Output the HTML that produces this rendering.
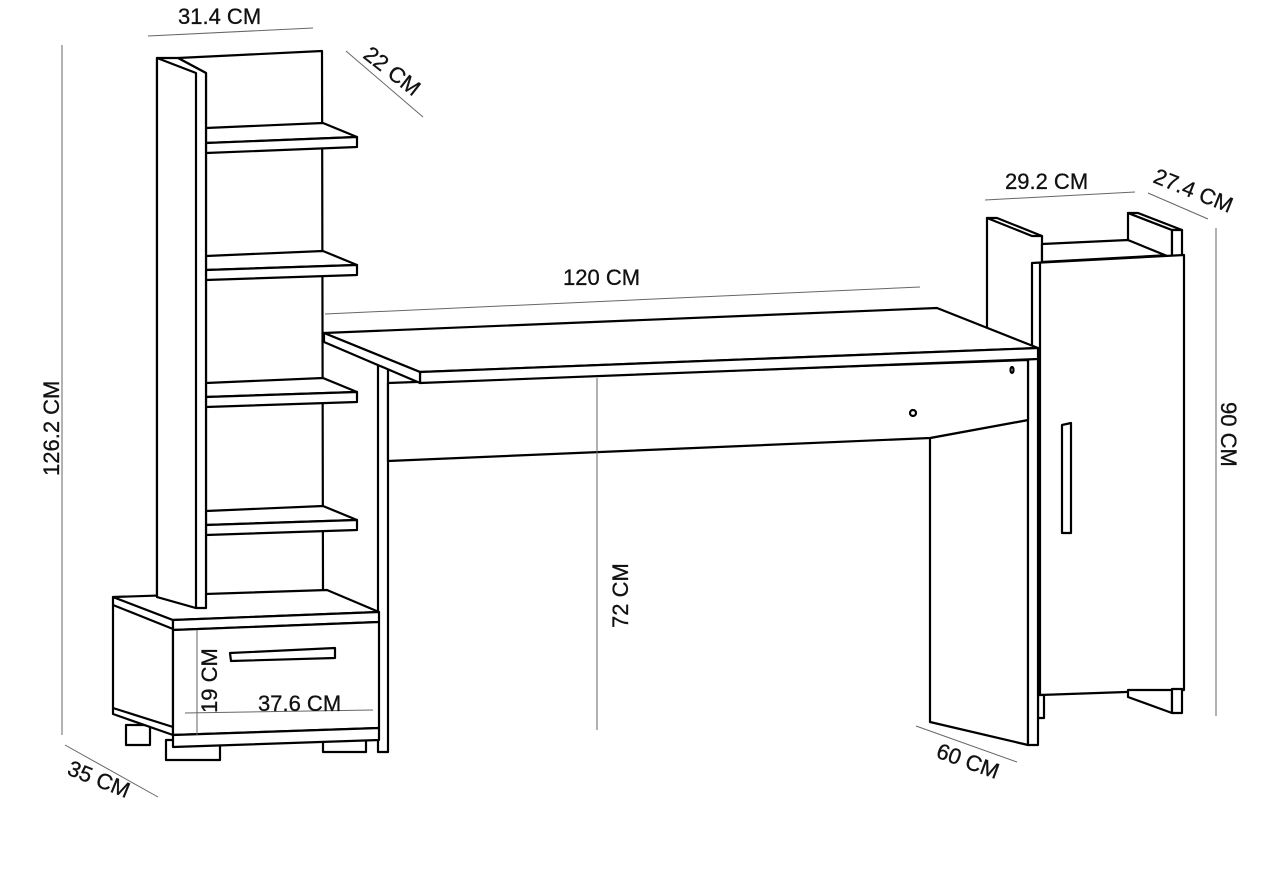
<!DOCTYPE html>
<html><head><style>
html,body{margin:0;padding:0;background:#fff;width:1280px;height:869px;overflow:hidden}
svg{display:block}
text{font-family:"Liberation Sans",sans-serif;font-size:22px;fill:#111;stroke:#111;stroke-width:0.3}
</style></head><body>
<svg width="1280" height="869" viewBox="0 0 1280 869" xmlns="http://www.w3.org/2000/svg">
<g fill="#fff" stroke="#000" stroke-width="2.2" stroke-linejoin="round">
<polygon points="178,58 322,51 323,592 206,597 206,73"/>
<g>
<polygon points="206,128 323,123 357,137 206,143"/><polygon points="206,143 357,137 357,147 206,153"/>
<polygon points="206,256 323,251 357,265 206,270"/><polygon points="206,270 357,265 357,275 206,280"/>
<polygon points="206,383 323,378 357,392 206,397"/><polygon points="206,397 357,392 357,402 206,407"/>
<polygon points="206,511 323,506 357,520 206,525"/><polygon points="206,525 357,520 357,530 206,535"/>
</g>
<polygon points="378,345 388,345 388,752 378,752"/>
<polygon points="126,725 150,725 150,745 126,745"/>
<polygon points="166,740 220,740 220,760 166,760"/>
<polygon points="323,736 366,736 366,752 323,752"/>
<polygon points="113,597 173,620 173,735 113,714"/>
<polygon points="113,597 327,590 379,612 173,620"/>
<polygon points="173,620 379,612 379,622 173,630"/>
<polygon points="173,630 379,622 379,728 173,735"/>
<polygon points="173,735 379,728 379,740 173,747"/>
<line x1="113" y1="605" x2="173" y2="629"/>
<line x1="113" y1="708" x2="173" y2="727"/>
<polygon points="230,653 335,648 335,658 231,661"/>
<polygon points="157,58 178,58 206,73 206,608 196,608 157,597"/>
<polygon points="157,58 196,73 196,608 157,597"/>
<polygon points="987,218 1042,236 1042,380 987,380"/>
<polygon points="987,218 997,218 1042,236 1032,236"/>
<polygon points="1042,244 1128,240 1170,255 1042,262"/>
<polygon points="1128,213 1172,230 1172,258 1128,240"/>
<polygon points="1128,213 1138,213 1182,230 1172,230"/>
<polygon points="1172,230 1182,230 1182,257 1172,258"/>
<polygon points="1032,263 1184,255 1184,690 1040,695 1032,695"/>
<line x1="1040" y1="263" x2="1040" y2="695"/>
<polygon points="1128,690 1172,690 1172,713 1128,697"/>
<polygon points="1172,689 1182,689 1182,713 1172,713"/>
<polygon points="1038,695 1044,695 1044,718 1038,718"/>
<polygon points="1062,425 1071,423 1071,533 1062,533"/>
<polygon points="930,438 1028,420 1028,745 930,722"/>
<polygon points="1028,358 1038,358 1038,745 1028,745"/>
<polygon points="388,383 1028,360 1028,420 930,438 388,461"/>
<polygon points="324,333 937,308 1038,348 420,372"/>
<polygon points="420,372 1038,348 1038,359 420,383"/>
<polygon points="324,333 420,372 420,383 324,342"/>
<circle cx="913" cy="413" r="3"/>
<ellipse cx="1012" cy="370" rx="1.5" ry="3"/>
</g>
<g stroke="#666" stroke-width="1" fill="none">
<line x1="148" y1="36" x2="313" y2="28"/>
<line x1="346" y1="51" x2="423" y2="117"/>
<line x1="62" y1="45" x2="62" y2="735"/>
<line x1="65" y1="745" x2="158" y2="797"/>
<line x1="325" y1="314" x2="920" y2="287"/>
<line x1="985" y1="200" x2="1135" y2="192"/>
<line x1="1148" y1="193" x2="1208" y2="219"/>
<line x1="1216" y1="228" x2="1216" y2="716"/>
<line x1="597" y1="378" x2="597" y2="730"/>
<line x1="916" y1="726" x2="1017" y2="762"/>
<line x1="197" y1="630" x2="197" y2="735"/>
<line x1="185" y1="713" x2="373" y2="710"/>
</g>
<text x="178" y="24">31.4 CM</text>
<text transform="translate(362,57) rotate(38)">22 CM</text>
<text transform="translate(59,476) rotate(-90)">126.2 CM</text>
<text transform="translate(66,774) rotate(22)">35 CM</text>
<text x="563" y="285">120 CM</text>
<text x="1005" y="189">29.2 CM</text>
<text transform="translate(1152,182) rotate(22)">27.4 CM</text>
<text transform="translate(1221,402) rotate(90)">90 CM</text>
<text transform="translate(628,628) rotate(-90)">72 CM</text>
<text transform="translate(935,757) rotate(20)">60 CM</text>
<text transform="translate(217,713) rotate(-90)">19 CM</text>
<text x="258" y="711">37.6 CM</text>
</svg>
</body></html>
